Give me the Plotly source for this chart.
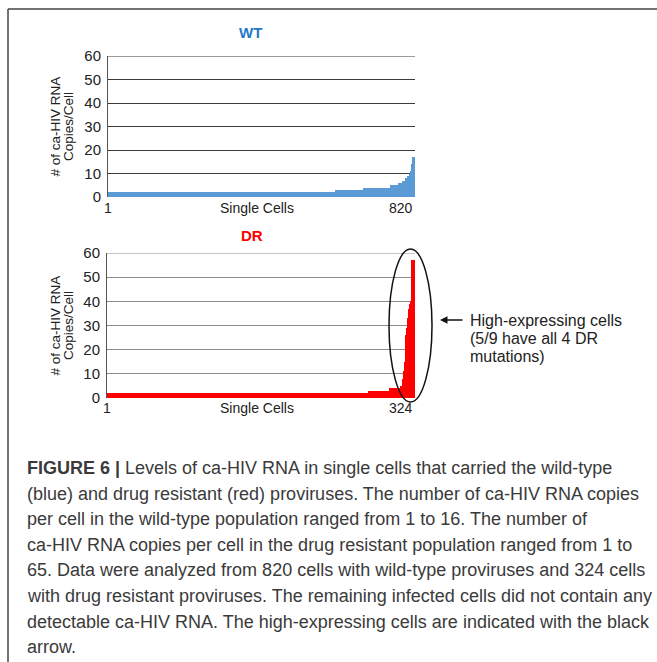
import plotly.graph_objects as go

# ---- data, run-length encoded, sorted ascending ----
wt_levels = [2, 3, 4, 5, 6, 7, 8, 9, 10, 11, 12, 13, 14, 15, 16, 17]
wt_counts = [606, 75, 72, 22, 10, 8, 6, 5, 3, 1, 1, 1, 1, 1, 1, 7]
dr_levels = [2, 3, 4, 5, 8, 11, 15, 22, 26, 29, 33, 37, 39, 40, 57]
dr_counts = [275, 22, 11, 2, 1, 1, 1, 1, 1, 1, 1, 1, 1, 1, 4]
y_ticks = [0, 10, 20, 30, 40, 50, 60]

caption_lines = [
    "<b>FIGURE 6 |</b> Levels of ca-HIV RNA in single cells that carried the wild-type",
    "(blue) and drug resistant (red) proviruses. The number of ca-HIV RNA copies",
    "per cell in the wild-type population ranged from 1 to 16. The number of",
    "ca-HIV RNA copies per cell in the drug resistant population ranged from 1 to",
    "65. Data were analyzed from 820 cells with wild-type proviruses and 324 cells",
    "with drug resistant proviruses. The remaining infected cells did not contain any",
    "detectable ca-HIV RNA. The high-expressing cells are indicated with the black",
    "arrow.",
]
note_lines = ["High-expressing cells", "(5/9 have all 4 DR", "mutations)"]


def expand(levels, counts):
    out = []
    for v, c in zip(levels, counts):
        out.extend([v] * c)
    return out


wt = expand(wt_levels, wt_counts)
dr = expand(dr_levels, dr_counts)
n_wt, n_dr = len(wt), len(dr)

W, H = 657, 662
def xp(px):
    return px / W
def yp(py):
    return 1 - py / H

FONT = "Liberation Sans, Arial, sans-serif"
WT_GRID = "#3c3c3c"
DR_GRID = "#8c8c8c"

fig = go.Figure()
fig.add_trace(go.Bar(x=list(range(1, n_wt + 1)), y=wt, marker=dict(color="#5B9BD5", line=dict(width=0)),
                     xaxis="x", yaxis="y", showlegend=False, hoverinfo="skip"))
fig.add_trace(go.Bar(x=list(range(1, n_dr + 1)), y=dr, marker=dict(color="#FF0000", line=dict(width=0)),
                     xaxis="x2", yaxis="y2", showlegend=False, hoverinfo="skip"))

yax_common = dict(range=[0, 60], tickvals=y_ticks, showgrid=True, zeroline=False,
                  showline=True, linecolor="#555555", linewidth=1, ticks="",
                  tickfont=dict(family=FONT, size=15, color="#222222"), ticklabelstandoff=3,
                  fixedrange=True, automargin=False)
xax_common = dict(showticklabels=False, showgrid=False, zeroline=False, showline=False, ticks="",
                  automargin=False)

fig.update_layout(
    template="none", autosize=False,
    width=W, height=H, margin=dict(l=0, r=0, t=0, b=0, pad=0),
    paper_bgcolor="white", plot_bgcolor="white", bargap=0,
    xaxis=dict(domain=[xp(108), xp(415)], range=[0.5, n_wt + 0.5], anchor="y", **xax_common),
    yaxis=dict(domain=[yp(197), yp(56)], anchor="x", gridcolor=WT_GRID, gridwidth=1, **yax_common),
    xaxis2=dict(domain=[xp(107), xp(415)], range=[0.5, n_dr + 0.5], anchor="y2", **xax_common),
    yaxis2=dict(domain=[yp(398), yp(253)], anchor="x2", gridcolor=DR_GRID, gridwidth=1, **yax_common),
)

ann = []
def txt(text, x, y, size=13, color="#222222", xanchor="center", yanchor="middle", angle=0,
        xref="paper", bold=False, family=FONT):
    ann.append(dict(text=text, x=x, y=y, xref=xref, yref="paper", xanchor=xanchor, yanchor=yanchor,
                    showarrow=False, textangle=angle,
                    font=dict(family=family, size=size, color=color, weight=700 if bold else 400)))

# titles
txt("WT", xp(250), yp(33), size=15, color="#1F78C8", bold=True)
txt("DR", xp(252), yp(236), size=15, color="#FF0000", bold=True)
# y titles
for yc in (126.5, 325.5):
    txt("# of ca-HIV RNA", xp(55), yp(yc), size=13.5, angle=-90)
    txt("Copies/Cell", xp(68.5), yp(yc), size=13.5, angle=-90)
# x labels
txt("1", 1, yp(208), size=14, xref="x")
txt(str(n_wt), n_wt + 0.5, yp(208), size=14, xref="x", xanchor="right")
txt("Single Cells", xp(257), yp(208), size=14)
txt("1", 1, yp(408), size=14, xref="x2")
txt(str(n_dr), n_dr + 0.5, yp(408), size=14, xref="x2", xanchor="right")
txt("Single Cells", xp(257), yp(408), size=14)

# note
for i, line in enumerate(note_lines):
    txt(line, xp(468), yp(320 + 18.3 * i), size=16, xanchor="left")
ann.append(dict(x=xp(440), y=yp(320), xref="paper", yref="paper", ax=24, ay=0, text="",
                showarrow=True, arrowhead=2, arrowsize=1, arrowwidth=1.5, arrowcolor="#111111"))

# caption
for i, line in enumerate(caption_lines):
    txt(line, xp(25), yp(468 + 25.6 * i), size=18, color="#3a3a3a", xanchor="left")

fig.update_layout(annotations=ann)

# top gridline at the axis maximum (plotly omits the grid line on the plot edge)
fig.add_shape(type="line", xref="x domain", yref="y", x0=0, x1=1, y0=y_ticks[-1], y1=y_ticks[-1],
              line=dict(color=WT_GRID, width=1), layer="below")
fig.add_shape(type="line", xref="x2 domain", yref="y2", x0=0, x1=1, y0=y_ticks[-1], y1=y_ticks[-1],
              line=dict(color=DR_GRID, width=1), layer="below")

fig.add_shape(type="circle", xref="paper", yref="paper", x0=xp(389), x1=xp(432), y0=yp(402), y1=yp(249),
              line=dict(color="#111111", width=1.5))
fig.add_shape(type="line", xref="paper", yref="paper", x0=xp(8), x1=1, y0=yp(9), y1=yp(9),
              line=dict(color="#444444", width=1.5))
fig.add_shape(type="line", xref="paper", yref="paper", x0=xp(8), x1=xp(8), y0=yp(9), y1=0,
              line=dict(color="#444444", width=1.5))

fig.write_html("out.html", config={"displayModeBar": False, "staticPlot": True},
               post_script="document.body.style.margin='0';document.body.style.overflow='hidden';")
